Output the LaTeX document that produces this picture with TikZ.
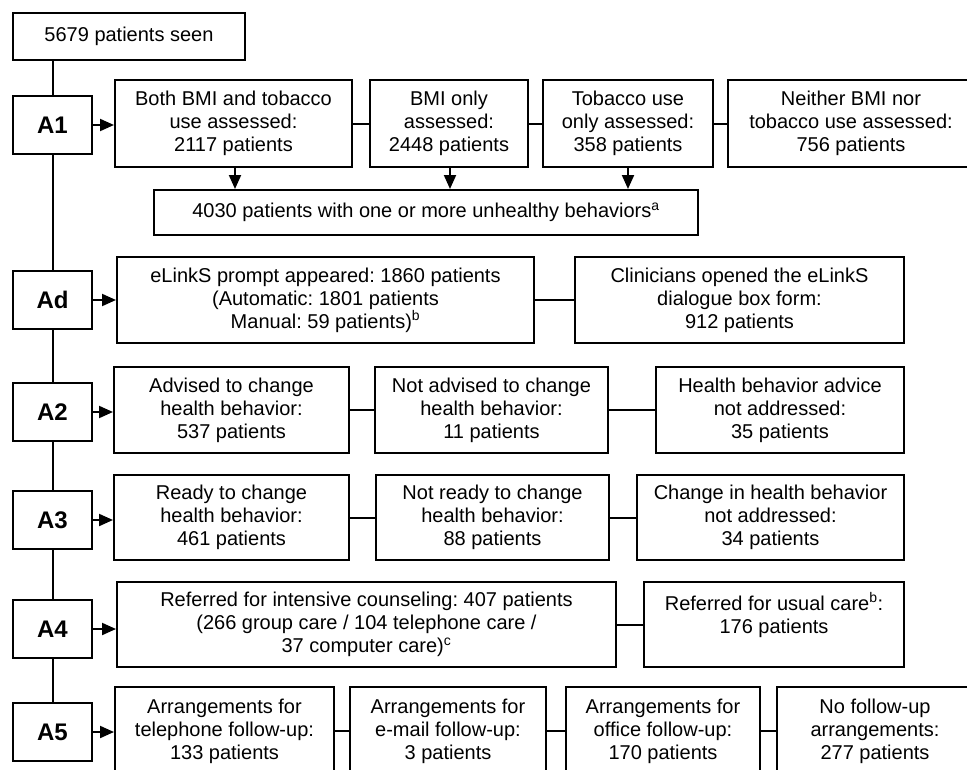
\documentclass[tikz,border=0pt]{standalone}
\usepackage{fontspec}
\setmainfont{Liberation Sans}
\frenchspacing
\usetikzlibrary{arrows.meta}
\tikzset{
  box/.style={draw, line width=2pt, align=center, inner sep=0pt,
    font=\fontsize{20}{23}\selectfont},
  lab/.style={draw, line width=2pt, inner sep=0pt, minimum width=79pt, minimum height=58pt,
    font=\fontsize{24}{26}\selectfont\bfseries},
  link/.style={line width=2pt},
  arr/.style={line width=2pt, -{Triangle[length=14pt,width=12pt]}}
}
\begin{document}
\begin{tikzpicture}[x=1pt,y=-1pt]
\useasboundingbox (0,0) rectangle (967,769);
\fill[white] (0,0) rectangle (967,769);
\clip (0,0) rectangle (967,769);

% top
\node[box, minimum width=232pt, minimum height=47pt] (seen) at (129,36.5) {5679 patients seen};

% A1 row
\node[lab] (A1) at (52.5,125) {A1};
\node[box, minimum width=237pt, minimum height=87pt] (both) at (233.5,123.5) {Both BMI and tobacco\\use assessed:\\2117 patients};
\node[box, minimum width=158pt, minimum height=87pt] (bmi) at (449,123.5) {BMI only\\assessed:\\2448 patients};
\node[box, minimum width=170pt, minimum height=87pt] (tob) at (628,123.5) {Tobacco use\\only assessed:\\358 patients};
\node[box, minimum width=246pt, minimum height=87pt] (neither) at (851,123.5) {Neither BMI nor\\tobacco use assessed:\\756 patients};
\node[box, minimum width=544pt, minimum height=45pt] (unh) at (426,212.5) {4030 patients with one or more unhealthy behaviors\textsuperscript{a}};

% Ad row
\node[lab] (Ad) at (52.5,300) {Ad};
\node[box, minimum width=417pt, minimum height=86pt] (elinks) at (325.5,300) {eLinkS prompt appeared: 1860 patients\\(Automatic: 1801 patients\\Manual: 59 patients)\textsuperscript{b}};
\node[box, minimum width=329pt, minimum height=86pt] (clin) at (739.5,300) {Clinicians opened the eLinkS\\dialogue box form:\\912 patients};

% A2 row
\node[lab] (A2) at (52.5,412) {A2};
\node[box, minimum width=235pt, minimum height=86pt] (adv) at (231.5,410) {Advised to change\\health behavior:\\537 patients};
\node[box, minimum width=233pt, minimum height=86pt] (notadv) at (491.5,410) {Not advised to change\\health behavior:\\11 patients};
\node[box, minimum width=248pt, minimum height=86pt] (hba) at (780,410) {Health behavior advice\\not addressed:\\35 patients};

% A3 row
\node[lab] (A3) at (52.5,520) {A3};
\node[box, minimum width=235pt, minimum height=85pt] (ready) at (231.5,517.5) {Ready to change\\health behavior:\\461 patients};
\node[box, minimum width=233pt, minimum height=85pt] (notready) at (492.5,517.5) {Not ready to change\\health behavior:\\88 patients};
\node[box, minimum width=267pt, minimum height=85pt] (chg) at (770.5,517.5) {Change in health behavior\\not addressed:\\34 patients};

% A4 row
\node[lab] (A4) at (52.5,629) {A4};
\node[box, minimum width=499pt, minimum height=85pt] (ref) at (366.5,624.5) {Referred for intensive counseling: 407 patients\\(266 group care / 104 telephone care /\\37 computer care)\textsuperscript{c}};
\node[box, minimum width=260pt, minimum height=85pt] (usual) at (774,624.5) {Referred for usual care\textsuperscript{b}:\\176 patients\\\mbox{}};

% A5 row
\node[lab] (A5) at (52.5,732) {A5};
\node[box, minimum width=219pt, minimum height=88pt] (tel) at (224.5,731) {Arrangements for\\telephone follow-up:\\133 patients};
\node[box, minimum width=196pt, minimum height=88pt] (mail) at (448,731) {Arrangements for\\e-mail follow-up:\\3 patients};
\node[box, minimum width=194pt, minimum height=88pt] (office) at (663,731) {Arrangements for\\office follow-up:\\170 patients};
\node[box, minimum width=196pt, minimum height=88pt] (none) at (875,731) {No follow-up\\arrangements:\\277 patients};

% spine
\draw[link] (A1.north |- seen.south) -- (A1.north);
\draw[link] (A1.south) -- (Ad.north);
\draw[link] (Ad.south) -- (A2.north);
\draw[link] (A2.south) -- (A3.north);
\draw[link] (A3.south) -- (A4.north);
\draw[link] (A4.south) -- (A5.north);

% arrows from labels
\draw[arr] (A1.east) -- (A1.east -| both.west);
\draw[arr] (Ad.east) -- (Ad.east -| elinks.west);
\draw[arr] (A2.east) -- (A2.east -| adv.west);
\draw[arr] (A3.east) -- (A3.east -| ready.west);
\draw[arr] (A4.east) -- (A4.east -| ref.west);
\draw[arr] (A5.east) -- (A5.east -| tel.west);

% horizontal links
\draw[link] (both.east) -- (bmi.west);
\draw[link] (bmi.east) -- (tob.west);
\draw[link] (tob.east) -- (neither.west);
\draw[link] (elinks.east) -- (clin.west);
\draw[link] (adv.east) -- (notadv.west);
\draw[link] (notadv.east) -- (hba.west);
\draw[link] (ready.east) -- (notready.west);
\draw[link] (notready.east) -- (chg.west);
\draw[link] (ref.east) -- (usual.west);
\draw[link] (tel.east) -- (mail.west);
\draw[link] (mail.east) -- (office.west);
\draw[link] (office.east) -- (none.west);

% down arrows
\draw[arr] ([xshift=1.5pt]both.south) -- ([xshift=1.5pt]both.south |- unh.north);
\draw[arr] ([xshift=1pt]bmi.south) -- ([xshift=1pt]bmi.south |- unh.north);
\draw[arr] (tob.south) -- (tob.south |- unh.north);
\end{tikzpicture}
\end{document}
